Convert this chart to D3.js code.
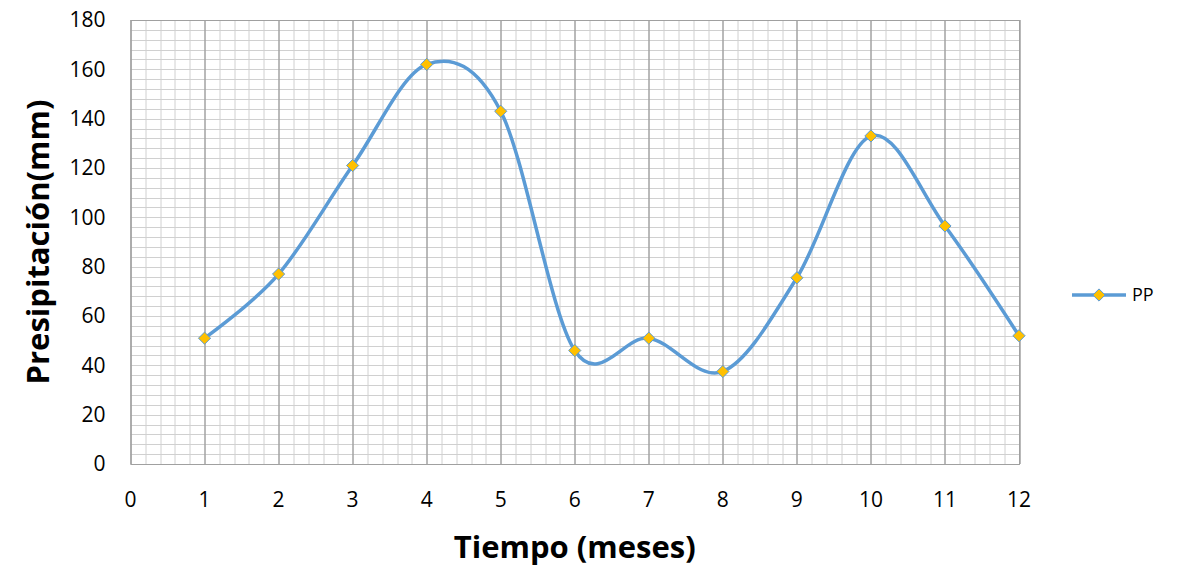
<!DOCTYPE html>
<html>
<head>
<meta charset="utf-8">
<script src="https://cdn.jsdelivr.net/npm/d3@7"></script>
<style>
  body { margin: 0; background: #fff; }
  text { font-family: "Open Sans", sans-serif; fill: #000; }
</style>
</head>
<body>
<div id="chart"></div>
<script>
let width = 1184
let height = 567

// data
let months = [1, 2, 3, 4, 5, 6, 7, 8, 9, 10, 11, 12]
let pp = [51, 77, 121, 162, 143, 46, 51, 37.5, 75.5, 133, 96.5, 52]
let xTicks = [0, 1, 2, 3, 4, 5, 6, 7, 8, 9, 10, 11, 12]
let yTicks = [0, 20, 40, 60, 80, 100, 120, 140, 160, 180]

let margin = {
  'top' : 20,
  'right' : 165,
  'bottom' : 103,
  'left' : 130.5
}

let innerW = width - margin.left - margin.right
let innerH = height - margin.top - margin.bottom

let xScale = d3.scaleLinear()
  .domain([0, 12])
  .range([0, innerW])

let yScale = d3.scaleLinear()
  .domain([0, 180])
  .range([innerH, 0])

let svg = d3.select('#chart').append('svg')
  .attr('width', width)
  .attr('height', height)

let inner = svg.append('g')
  .attr('transform', 'translate(' + margin.left + ',' + margin.top + ')')

// minor grid
let minorX = d3.range(0, 12.001, 0.2)
let minorY = d3.range(0, 180.001, 4)

inner.append('g').selectAll('line')
  .data(minorY)
  .enter().append('line')
  .attr('x1', 0).attr('x2', innerW)
  .attr('y1', d => Math.round(yScale(d)) + 0.5)
  .attr('y2', d => Math.round(yScale(d)) + 0.5)
  .attr('stroke', '#d0d0d0')

inner.append('g').selectAll('line')
  .data(minorX)
  .enter().append('line')
  .attr('y1', 0).attr('y2', innerH)
  .attr('x1', d => Math.round(xScale(d)) + 0.5)
  .attr('x2', d => Math.round(xScale(d)) + 0.5)
  .attr('stroke', '#d0d0d0')

// major vertical grid
inner.append('g').selectAll('line')
  .data(xTicks)
  .enter().append('line')
  .attr('y1', 0).attr('y2', innerH)
  .attr('x1', d => Math.round(xScale(d)) + 0.5)
  .attr('x2', d => Math.round(xScale(d)) + 0.5)
  .attr('stroke', '#8c8c8c')

// frame
inner.append('rect')
  .attr('x', 0.5).attr('y', 0.5)
  .attr('width', innerW).attr('height', innerH)
  .attr('fill', 'none')
  .attr('stroke', '#a0a0a0')

// tick labels
inner.append('g').selectAll('text')
  .data(yTicks)
  .enter().append('text')
  .attr('x', -25)
  .attr('y', d => yScale(d))
  .attr('dy', '0.35em')
  .attr('text-anchor', 'end')
  .style('font-size', '21px')
  .text(d => d)

inner.append('g').selectAll('text')
  .data(xTicks)
  .enter().append('text')
  .attr('x', d => xScale(d))
  .attr('y', innerH + 36)
  .attr('dy', '0.35em')
  .attr('text-anchor', 'middle')
  .style('font-size', '21px')
  .text(d => d)

// axis titles
svg.append('text')
  .attr('x', margin.left + innerW / 2)
  .attr('y', 558)
  .attr('text-anchor', 'middle')
  .style('font-size', '31px')
  .style('font-weight', 'bold')
  .text('Tiempo (meses)')

svg.append('text')
  .attr('transform', 'translate(49,' + (margin.top + innerH / 2) + ') rotate(-90)')
  .attr('text-anchor', 'middle')
  .style('font-size', '31px')
  .style('font-weight', 'bold')
  .text('Presipitación(mm)')

// series
let points = months.map((m, i) => [m, pp[i]])

let line = d3.line()
  .x(d => xScale(d[0]))
  .y(d => yScale(d[1]))
  .curve(d3.curveCatmullRom.alpha(0))

inner.append('path')
  .datum(points)
  .attr('d', line)
  .attr('fill', 'none')
  .attr('stroke', '#5b9bd5')
  .attr('stroke-width', 3.5)
  .attr('stroke-linejoin', 'round')

let diamond = d3.symbol().type(d3.symbolDiamond2).size(95)

inner.append('g').selectAll('path')
  .data(points)
  .enter().append('path')
  .attr('d', diamond)
  .attr('transform', d => 'translate(' + xScale(d[0]) + ',' + yScale(d[1]) + ')')
  .attr('fill', '#ffc000')
  .attr('stroke', '#5b9bd5')
  .attr('stroke-width', 1)

// legend
let legend = svg.append('g').attr('transform', 'translate(1072,295)')
legend.append('line')
  .attr('x1', 0).attr('x2', 54)
  .attr('stroke', '#5b9bd5')
  .attr('stroke-width', 3.5)
legend.append('path')
  .attr('d', diamond)
  .attr('transform', 'translate(27,0)')
  .attr('fill', '#ffc000')
  .attr('stroke', '#5b9bd5')
legend.append('text')
  .attr('x', 60)
  .attr('dy', '0.35em')
  .style('font-size', '18px')
  .text('PP')
</script>
</body>
</html>
